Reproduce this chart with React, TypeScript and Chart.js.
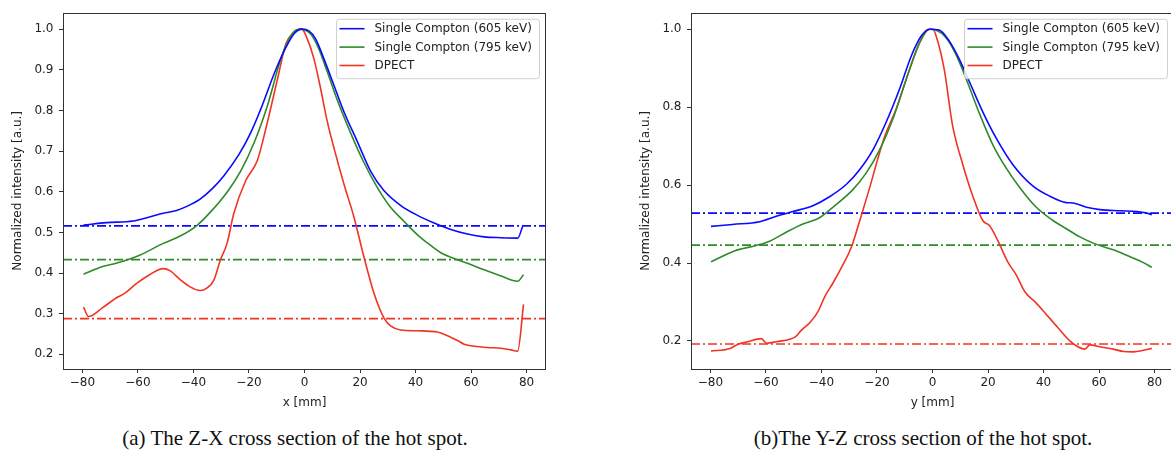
import { useEffect, useRef } from 'react';
import { Chart, registerables } from 'chart.js';

Chart.register(...registerables);

// ---------- data ----------
const seriesNames = ['Single Compton (605 keV)', 'Single Compton (795 keV)', 'DPECT'];
const seriesColors = ['#0a0aff', '#2f8a2a', '#f03424'];

const xTicks = [-80, -60, -40, -20, 0, 20, 40, 60, 80];
const yTicksZX = [0.2, 0.3, 0.4, 0.5, 0.6, 0.7, 0.8, 0.9, 1.0];
const yTicksYZ = [0.2, 0.4, 0.6, 0.8, 1.0];

// (a) Z-X cross section
const zxBlueX = [-79.6, -71.3, -61.8, -55.8, -50.9, -46.1, -42.4, -37.6, -33.3, -29.1, -23.6, -19.4, -15.2, -10.9, -6.7, -3.6, -1.0, 1.6, 4, 7, 10.6, 14.2, 19, 23.8, 28.6, 34.7, 40.7, 46.7, 52.7, 58.7, 64.7, 70.8, 76.8, 78.6];
const zxBlueY = [0.518, 0.524, 0.528, 0.538, 0.547, 0.554, 0.564, 0.582, 0.607, 0.639, 0.692, 0.745, 0.813, 0.891, 0.955, 0.99, 1.0, 0.996, 0.976, 0.927, 0.862, 0.797, 0.724, 0.651, 0.603, 0.566, 0.542, 0.523, 0.507, 0.496, 0.489, 0.487, 0.486, 0.515];

const zxGreenX = [-79.6, -72.7, -67.9, -59.4, -50.9, -44.8, -38.8, -33.9, -27.9, -23, -18.2, -13.3, -8.5, -4.8, -1.8, 2.2, 5.2, 8.2, 11.8, 16.6, 21.4, 26.2, 31, 35.9, 40.7, 44.3, 49.1, 53.9, 58.7, 64.7, 70.8, 76.8, 78.9];
const zxGreenY = [0.397, 0.416, 0.424, 0.444, 0.473, 0.491, 0.517, 0.55, 0.599, 0.651, 0.72, 0.813, 0.927, 0.985, 1.0, 0.988, 0.951, 0.895, 0.826, 0.745, 0.672, 0.611, 0.562, 0.527, 0.494, 0.474, 0.45, 0.436, 0.424, 0.408, 0.393, 0.38, 0.396];

const zxRedX = [-79.6, -77.8, -72.7, -67.3, -64.8, -60.6, -55.8, -50.9, -48.5, -44.8, -41.2, -37.6, -35.2, -32.7, -30.3, -27.9, -25.5, -21.2, -17, -13.3, -9.7, -6.7, -4.2, -1.0, 1, 3.4, 5.8, 8.2, 10.6, 14.2, 17.8, 21.4, 25, 28.6, 31, 34.7, 40.7, 47.9, 51.5, 55.1, 57.5, 59.9, 65.9, 70.7, 74.4, 76.8, 78.9];
const zxRedY = [0.316, 0.293, 0.315, 0.341, 0.35, 0.374, 0.396, 0.411, 0.406, 0.384, 0.366, 0.357, 0.363, 0.382, 0.432, 0.473, 0.546, 0.627, 0.677, 0.773, 0.878, 0.964, 0.99, 1.0, 0.976, 0.927, 0.854, 0.773, 0.708, 0.619, 0.538, 0.44, 0.351, 0.29, 0.27, 0.26, 0.258, 0.255, 0.246, 0.234, 0.225, 0.221, 0.217, 0.215, 0.211, 0.208, 0.323];

const zxThresholds = [0.516, 0.433, 0.288];

// (b) Y-Z cross section
const yzBlueX = [-79.8, -72, -62.3, -56.3, -50.3, -43.1, -37.1, -31, -26.2, -21.4, -16.6, -11.8, -7.6, -4, -1, 2.4, 6, 9.6, 13.3, 18.1, 22.9, 28.9, 36.1, 42.1, 48.2, 50.6, 55.5, 60.3, 67.5, 73.6, 77.2, 79];
const yzBlueY = [0.494, 0.499, 0.506, 0.52, 0.532, 0.547, 0.57, 0.602, 0.64, 0.691, 0.763, 0.848, 0.932, 0.983, 1.0, 0.998, 0.97, 0.924, 0.865, 0.788, 0.721, 0.653, 0.598, 0.572, 0.555, 0.554, 0.543, 0.537, 0.534, 0.532, 0.528, 0.524];

const yzGreenX = [-79.8, -71.4, -63.5, -58.7, -52.7, -46.7, -40.7, -35.9, -28.6, -23.8, -19, -14.2, -9.4, -4.6, -1, 1.2, 4.8, 8.4, 12.1, 16.9, 21.7, 26.5, 31.4, 37.4, 43.4, 48.2, 53.1, 57.9, 62.7, 66.3, 71.2, 76, 79];
const yzGreenY = [0.403, 0.431, 0.445, 0.456, 0.479, 0.5, 0.516, 0.543, 0.589, 0.632, 0.691, 0.771, 0.873, 0.966, 1.0, 0.998, 0.979, 0.936, 0.873, 0.784, 0.704, 0.644, 0.594, 0.543, 0.509, 0.488, 0.467, 0.451, 0.439, 0.431, 0.416, 0.401, 0.389];

const yzRedX = [-79.8, -73.2, -70.2, -66.5, -61.7, -59.7, -56.3, -49.3, -47.3, -44.3, -41.2, -38.8, -35.9, -32.3, -29.2, -26.2, -22.6, -19.6, -17.2, -13, -8.2, -4.6, -1.6, 0.2, 1.2, 4.2, 7.2, 10.9, 14.5, 18.1, 20.5, 23.5, 27.1, 30.2, 33.2, 37.4, 41, 45.2, 49.5, 51.9, 54.9, 56.7, 60.3, 65.1, 68.8, 72.4, 76, 79];
const yzRedY = [0.174, 0.18, 0.191, 0.198, 0.206, 0.194, 0.198, 0.211, 0.227, 0.246, 0.276, 0.314, 0.348, 0.395, 0.441, 0.509, 0.594, 0.67, 0.725, 0.797, 0.898, 0.966, 1.0, 1.0, 0.985, 0.898, 0.754, 0.653, 0.572, 0.509, 0.496, 0.458, 0.403, 0.369, 0.327, 0.297, 0.268, 0.234, 0.2, 0.187, 0.179, 0.19, 0.185, 0.179, 0.173, 0.172, 0.176, 0.181];

const yzThresholds = [0.528, 0.446, 0.192];

const X_MIN = -87;
const X_MAX = 87;

// ---------- helpers ----------
const pair = (xs: number[], ys: number[]) => xs.map((x, i) => ({ x, y: ys[i] }));
const fmtMinus = (v: number) => (v < 0 ? '\u2212' + Math.abs(v) : String(v));
const FONT = 'DejaVu Sans';
const FS = 12;

const boxPlugin = {
  id: 'axesBox',
  afterDraw(chart: any) {
    const { ctx, chartArea: a } = chart;
    ctx.save();
    ctx.strokeStyle = '#333333';
    ctx.lineWidth = 1;
    ctx.strokeRect(Math.round(a.left) + 0.5, Math.round(a.top) + 0.5, Math.round(a.right - a.left) - 1, Math.round(a.bottom - a.top));
    ctx.restore();
  },
};

const legendPlugin = {
  id: 'mplLegend',
  afterDatasetsDraw(chart: any) {
    const { ctx, chartArea: a } = chart;
    const w = 203;
    const h = 59.5;
    const x0 = a.right - 7 - w;
    const y0 = a.top + 6;
    ctx.save();
    ctx.beginPath();
    (ctx as any).roundRect(x0 + 0.5, y0 + 0.5, w, h, 3);
    ctx.fillStyle = 'rgba(255,255,255,0.85)';
    ctx.fill();
    ctx.strokeStyle = '#d0d0d0';
    ctx.lineWidth = 1;
    ctx.stroke();
    ctx.font = `${FS}px "${FONT}"`;
    ctx.textBaseline = 'middle';
    ctx.textAlign = 'left';
    seriesNames.forEach((name, i) => {
      const cy = y0 + 10 + i * 18.4;
      ctx.beginPath();
      ctx.moveTo(x0 + 3.5, cy);
      ctx.lineTo(x0 + 28.5, cy);
      ctx.strokeStyle = seriesColors[i];
      ctx.lineWidth = 1.6;
      ctx.stroke();
      ctx.fillStyle = '#222222';
      ctx.fillText(name, x0 + 38.5, cy + 0.5);
    });
    ctx.restore();
  },
};

type PanelProps = {
  curves: { x: number[]; y: number[] }[];
  thresholds: number[];
  yMin: number;
  yMax: number;
  yTicks: number[];
  xTitle: string;
};

function Panel({ curves, thresholds, yMin, yMax, yTicks, xTitle }: PanelProps) {
  const ref = useRef<HTMLCanvasElement>(null);
  useEffect(() => {
    if (!ref.current) return;
    const datasets: any[] = [];
    curves.forEach((c, i) => {
      datasets.push({
        label: seriesNames[i],
        data: pair(c.x, c.y),
        borderColor: seriesColors[i],
        borderWidth: 1.6,
        pointRadius: 0,
        fill: false,
        cubicInterpolationMode: 'monotone',
      });
    });
    thresholds.forEach((t, i) => {
      datasets.push({
        label: 'thr' + i,
        data: [
          { x: X_MIN, y: t },
          { x: X_MAX, y: t },
        ],
        borderColor: seriesColors[i],
        borderWidth: 1.6,
        borderDash: [9, 3, 2, 3],
        pointRadius: 0,
        fill: false,
      });
    });
    const chart = new Chart(ref.current, {
      type: 'line',
      data: { datasets },
      plugins: [legendPlugin, boxPlugin],
      options: {
        animation: false,
        responsive: false,
        devicePixelRatio: 1,
        layout: { padding: { top: 9, right: 14, left: 0, bottom: 0 } },
        plugins: { legend: { display: false }, tooltip: { enabled: false } },
        scales: {
          x: {
            type: 'linear',
            min: X_MIN,
            max: X_MAX,
            afterBuildTicks: (s: any) => {
              s.ticks = xTicks.map((v) => ({ value: v }));
            },
            afterFit: (s: any) => {
              s.height = 51;
            },
            grid: { drawOnChartArea: false, drawTicks: true, tickLength: 4, tickColor: '#333333' },
            border: { display: false },
            ticks: {
              padding: 3,
              maxRotation: 0,
              color: '#222222',
              font: { family: FONT, size: FS },
              callback: (v: any) => fmtMinus(Number(v)),
            },
            title: {
              display: true,
              text: xTitle,
              color: '#222222',
              font: { family: FONT, size: FS },
              padding: { top: 0, bottom: 9.8 },
            },
          },
          y: {
            type: 'linear',
            min: yMin,
            max: yMax,
            afterBuildTicks: (s: any) => {
              s.ticks = yTicks.map((v) => ({ value: v }));
            },
            afterFit: (s: any) => {
              s.width = 63;
            },
            grid: { drawOnChartArea: false, drawTicks: true, tickLength: 4, tickColor: '#333333' },
            border: { display: false },
            ticks: {
              padding: 5.5,
              color: '#222222',
              font: { family: FONT, size: FS },
              callback: (v: any) => Number(v).toFixed(1),
            },
            title: {
              display: true,
              text: 'Normalized intensity [a.u.]',
              color: '#222222',
              font: { family: FONT, size: FS },
              padding: { top: 10.3, bottom: 0 },
            },
          },
        },
      } as any,
    });
    return () => chart.destroy();
  }, []);
  return <canvas ref={ref} width={560} height={420} style={{ width: 560, height: 420, display: 'block' }} />;
}

const captionStyle = (cx: number): React.CSSProperties => ({
  position: 'absolute',
  left: cx - 250,
  width: 500,
  top: 426,
  lineHeight: '24px',
  textAlign: 'center',
  fontFamily: '"Liberation Serif", serif',
  fontSize: 21,
  color: '#111',
  whiteSpace: 'nowrap',
});

export default function App() {
  return (
    <div style={{ position: 'fixed', left: 0, top: 0, width: 1171, height: 455, overflow: 'hidden', background: '#fff' }}>
      <div style={{ position: 'absolute', left: 0, top: 0 }}>
        <Panel
          curves={[
            { x: zxBlueX, y: zxBlueY },
            { x: zxGreenX, y: zxGreenY },
            { x: zxRedX, y: zxRedY },
          ]}
          thresholds={zxThresholds}
          yMin={0.164}
          yMax={1.0405}
          yTicks={yTicksZX}
          xTitle="x [mm]"
        />
      </div>
      <div style={{ position: 'absolute', left: 628, top: 0 }}>
        <Panel
          curves={[
            { x: yzBlueX, y: yzBlueY },
            { x: yzGreenX, y: yzGreenY },
            { x: yzRedX, y: yzRedY },
          ]}
          thresholds={yzThresholds}
          yMin={0.128}
          yMax={1.0423}
          yTicks={yTicksYZ}
          xTitle="y [mm]"
        />
      </div>
      <div style={captionStyle(295)}>(a) The Z-X cross section of the hot spot.</div>
      <div style={captionStyle(923)}>(b)The Y-Z cross section of the hot spot.</div>
    </div>
  );
}
